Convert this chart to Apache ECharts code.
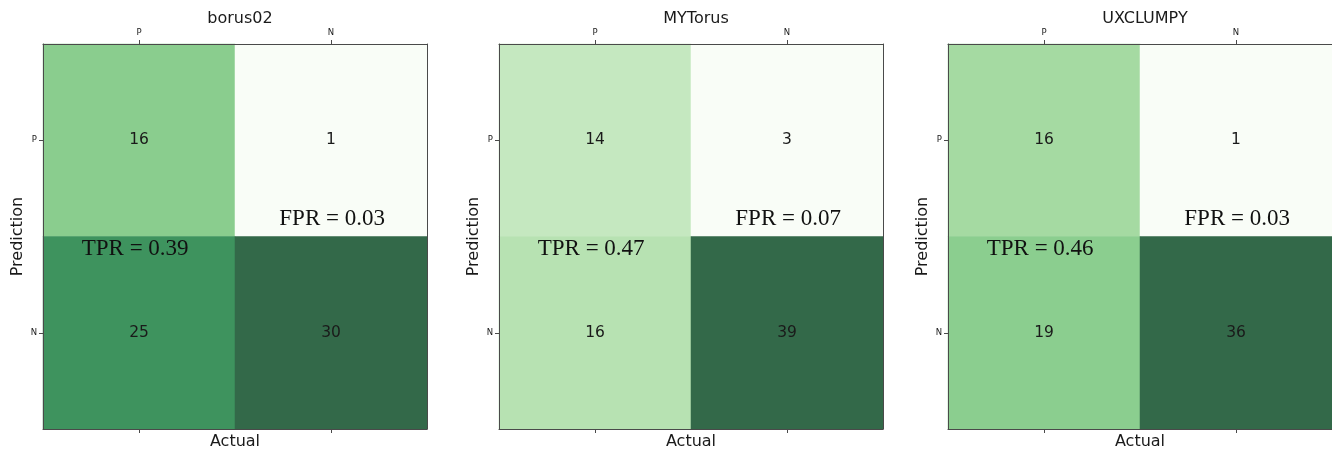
<!DOCTYPE html>
<html>
<head>
<meta charset="utf-8">
<title>Confusion matrices</title>
<script src="https://cdn.jsdelivr.net/npm/echarts@6/dist/echarts.min.js"></script>
<style>
  html, body { margin: 0; padding: 0; background: #ffffff; }
  #chart { width: 1332px; height: 457px; }
</style>
</head>
<body>
<div id="chart"></div>
<script>
// Class labels shared by both axes (actual on x, prediction on y)
const categories = ['P', 'N'];

// Model names, one panel each
const modelNames = ['borus02', 'MYTorus', 'UXCLUMPY'];

// Counts: rows = prediction (P, N), columns = actual (P, N)
const borus02Counts = [[16, 1], [25, 30]];
const mytorusCounts = [[14, 3], [16, 39]];
const uxclumpyCounts = [[16, 1], [19, 36]];

const allCounts = [borus02Counts, mytorusCounts, uxclumpyCounts];

// Greens colour map blended at 80% opacity over white
const GREENS = ['#f9fdf7', '#eaf7e6', '#d2edcd', '#b4e1af', '#90d091',
                '#67bc7d', '#4fa26a', '#338a56', '#336949'];

// Panel geometry
const GRID_LEFTS = [43, 499, 948];
const GRID_TOP = 44;
const GRID_W = 384;
const GRID_H = 385;

const AXIS_COLOR = '#4a4a4a';
const TEXT_COLOR = '#1a1a1a';
const SANS = 'DejaVu Sans';
const SERIF = 'Liberation Serif';

const grids = [], xAxes = [], yAxes = [], series = [], visualMaps = [], titles = [], graphics = [];

allCounts.forEach((counts, i) => {
  const left = GRID_LEFTS[i];
  grids.push({ left: left, top: GRID_TOP, width: GRID_W, height: GRID_H, containLabel: false });

  // top x axis with the class labels
  xAxes.push({
    type: 'category', gridIndex: i, data: categories, position: 'top',
    axisLine: { show: true, lineStyle: { color: AXIS_COLOR, width: 1 } },
    axisTick: { show: true, alignWithLabel: true, length: 4, lineStyle: { color: AXIS_COLOR } },
    axisLabel: { fontSize: 8.5, color: TEXT_COLOR, fontFamily: SANS, margin: 7 },
    splitLine: { show: false }, z: 10
  });
  // bottom x axis: ticks and the axis title only
  xAxes.push({
    type: 'category', gridIndex: i, data: categories, position: 'bottom',
    name: 'Actual', nameLocation: 'middle', nameGap: 5,
    nameTextStyle: { fontSize: 16, color: TEXT_COLOR, fontFamily: SANS, verticalAlign: 'top' },
    axisLine: { show: true, lineStyle: { color: AXIS_COLOR, width: 1 } },
    axisTick: { show: true, alignWithLabel: true, length: 4, lineStyle: { color: AXIS_COLOR } },
    axisLabel: { show: false },
    splitLine: { show: false }, z: 10
  });
  // left y axis with the class labels
  yAxes.push({
    type: 'category', gridIndex: i, data: categories, inverse: true, position: 'left',
    name: 'Prediction', nameLocation: 'middle', nameGap: 17, nameRotate: 90,
    nameTextStyle: { fontSize: 16, color: TEXT_COLOR, fontFamily: SANS },
    axisLine: { show: true, lineStyle: { color: AXIS_COLOR, width: 1 } },
    axisTick: { show: true, alignWithLabel: true, length: 4, lineStyle: { color: AXIS_COLOR } },
    axisLabel: { fontSize: 8.5, color: TEXT_COLOR, fontFamily: SANS, margin: 6 },
    splitLine: { show: false }, z: 10
  });
  // right y axis: frame line only
  yAxes.push({
    type: 'category', gridIndex: i, data: categories, inverse: true, position: 'right',
    axisLine: { show: true, lineStyle: { color: AXIS_COLOR, width: 1 } },
    axisTick: { show: false }, axisLabel: { show: false },
    splitLine: { show: false }, z: 10
  });

  // heatmap cells: [actual index, prediction index, count]
  const cells = [];
  counts.forEach((row, r) => row.forEach((v, c) => cells.push([c, r, v])));
  const flat = cells.map(d => d[2]);

  series.push({
    type: 'heatmap', xAxisIndex: 2 * i, yAxisIndex: 2 * i, data: cells,
    label: {
      show: true, formatter: p => String(p.value[2]),
      fontSize: 15.5, color: TEXT_COLOR, fontFamily: SANS
    },
    itemStyle: { borderWidth: 0 },
    emphasis: { disabled: true }
  });

  visualMaps.push({
    type: 'continuous', show: false, seriesIndex: i, dimension: 2,
    min: Math.min(...flat), max: Math.max(...flat),
    inRange: { color: GREENS }
  });

  titles.push({
    text: modelNames[i], left: left + GRID_W / 2, top: 6, textAlign: 'center',
    textStyle: { fontSize: 16, fontWeight: 'normal', color: TEXT_COLOR, fontFamily: SANS }
  });

  // rates from the counts
  const tp = counts[0][0], fn = counts[1][0], fp = counts[0][1], tn = counts[1][1];
  const tpr = (tp / (tp + fn)).toFixed(2);
  const fpr = (fp / (fp + tn)).toFixed(2);

  graphics.push({
    type: 'text', x: left + GRID_W * 0.24, y: GRID_TOP + GRID_H * 0.532, z: 100,
    style: { text: 'TPR = ' + tpr, font: '23px "' + SERIF + '"', fill: '#111',
             textAlign: 'center', textVerticalAlign: 'middle' }
  });
  graphics.push({
    type: 'text', x: left + GRID_W * 0.753, y: GRID_TOP + GRID_H * 0.455, z: 100,
    style: { text: 'FPR = ' + fpr, font: '23px "' + SERIF + '"', fill: '#111',
             textAlign: 'center', textVerticalAlign: 'middle' }
  });
});

const chart = echarts.init(document.getElementById('chart'), null, { renderer: 'canvas' });
chart.setOption({
  animation: false,
  backgroundColor: '#ffffff',
  title: titles,
  grid: grids,
  xAxis: xAxes,
  yAxis: yAxes,
  visualMap: visualMaps,
  series: series,
  graphic: graphics
});
</script>
</body>
</html>
